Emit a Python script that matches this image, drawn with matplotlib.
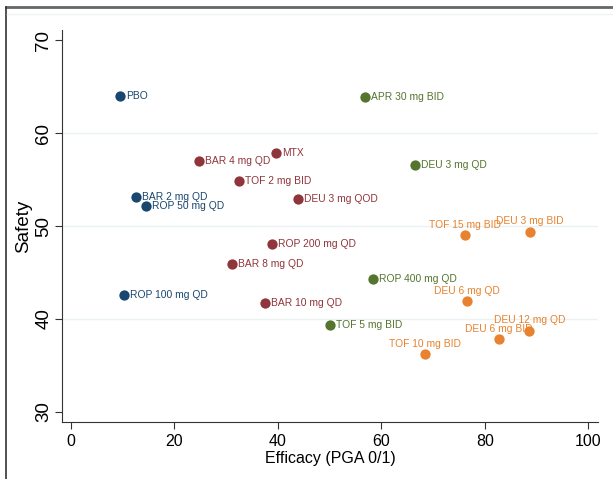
import matplotlib.pyplot as plt
from matplotlib.lines import Line2D

plt.rcParams['font.family'] = ['Liberation Sans', 'DejaVu Sans']

labels = ['PBO', 'BAR 2 mg QD', 'ROP 50 mg QD', 'ROP 100 mg QD',
          'BAR 4 mg QD', 'MTX', 'TOF 2 mg BID', 'DEU 3 mg QOD', 'ROP 200 mg QD',
          'BAR 8 mg QD', 'BAR 10 mg QD',
          'APR 30 mg BID', 'DEU 3 mg QD', 'ROP 400 mg QD', 'TOF 5 mg BID',
          'TOF 15 mg BID', 'DEU 3 mg BID', 'DEU 6 mg QD', 'DEU 12 mg QD',
          'DEU 6 mg BID', 'TOF 10 mg BID']
efficacy = [9.5, 12.6, 14.5, 10.3,
            24.8, 39.7, 32.5, 43.9, 38.9,
            31.1, 37.5,
            56.9, 66.5, 58.4, 50.1,
            76.2, 88.8, 76.6, 88.6,
            82.8, 68.5]
safety = [64.0, 53.1, 52.2, 42.6,
          57.0, 57.85, 54.9, 52.9, 48.1,
          45.9, 41.7,
          63.9, 56.6, 44.3, 39.4,
          49.0, 49.4, 41.9, 38.7,
          37.8, 36.2]
group = [0, 0, 0, 0,
         1, 1, 1, 1, 1,
         1, 1,
         2, 2, 2, 2,
         3, 3, 3, 3,
         3, 3]

colors = ['#1a476f', '#90353b', '#55752f', '#e8822e']

fig = plt.figure(figsize=(6.13, 4.79), dpi=100)
ax = fig.add_axes([0.1011, 0.119, 0.8744, 0.818])

for g in range(4):
    xs = [e for e, k in zip(efficacy, group) if k == g]
    ys = [s for s, k in zip(safety, group) if k == g]
    ax.scatter(xs, ys, s=55, color=colors[g], zorder=3, linewidths=0)

for name, x, y, g in zip(labels, efficacy, safety, group):
    if g == 3:
        ax.annotate(name, (x, y), xytext=(0, 4), textcoords='offset points',
                    ha='center', va='bottom', fontsize=7.4, color=colors[g])
    else:
        ax.annotate(name, (x, y), xytext=(4.5, 0), textcoords='offset points',
                    ha='left', va='center', fontsize=7.4, color=colors[g])

for yv in [40, 50, 60]:
    ax.axhline(yv, color='#eaf2f3', lw=1, zorder=0)

ax.set_xlim(-1.74, 101.9)
ax.set_ylim(28.9, 71.1)
ax.set_xticks([0, 20, 40, 60, 80, 100])
ax.set_yticks([30, 40, 50, 60, 70])
ax.tick_params(axis='x', labelsize=11.5, length=5, color='#333333', pad=4)
ax.tick_params(axis='y', labelsize=13.5, length=5, color='#333333', pad=2)
for t in ax.get_yticklabels():
    t.set_rotation(90)
    t.set_va('center')
ax.spines['top'].set_visible(False)
ax.spines['right'].set_visible(False)
ax.spines['left'].set_color('#333333')
ax.spines['bottom'].set_color('#333333')
ax.set_xlabel('Efficacy (PGA 0/1)', fontsize=11.5, labelpad=1)
ax.set_ylabel('Safety', fontsize=13.5, labelpad=2)

# outer frame
fig.add_artist(Line2D([0.009, 1.0], [0.986, 0.986], color='#666666', lw=2, transform=fig.transFigure))
fig.add_artist(Line2D([0.009, 0.009], [0.0, 0.986], color='#333333', lw=1.2, transform=fig.transFigure))
fig.add_artist(Line2D([0.012, 1.0], [0.971, 0.971], color='#eef4f5', lw=1, transform=fig.transFigure))

fig.savefig('out.png', dpi=100)
